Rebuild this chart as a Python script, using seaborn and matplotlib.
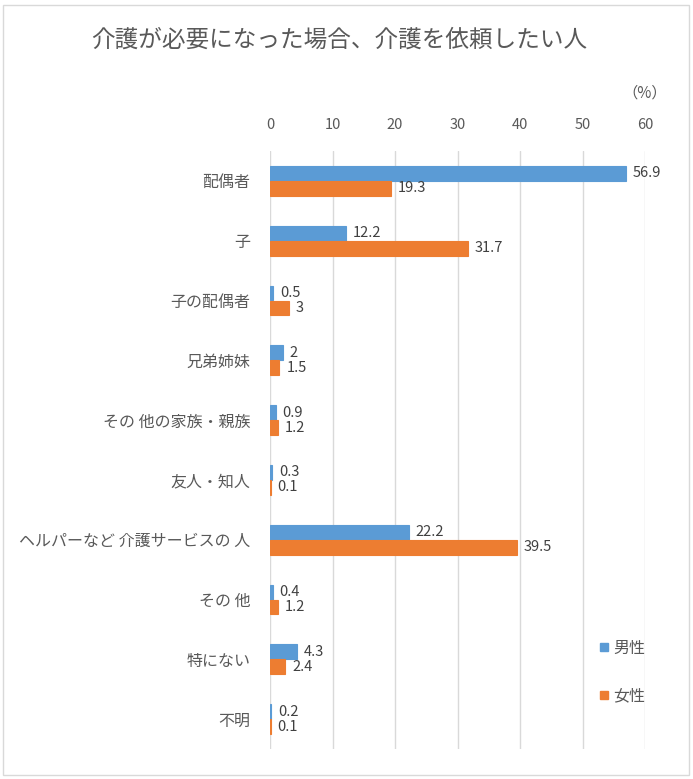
import matplotlib
matplotlib.use("Agg")
import matplotlib.pyplot as plt
import seaborn as sns
import pandas as pd
from matplotlib.lines import Line2D
from matplotlib.patches import Rectangle

categories = ["配偶者", "子", "子の配偶者", "兄弟姉妹", "その 他の家族・親族", "友人・知人",
              "ヘルパーなど 介護サービスの 人", "その 他", "特にない", "不明"]
male = [56.9, 12.2, 0.5, 2, 0.9, 0.3, 22.2, 0.4, 4.3, 0.2]
female = [19.3, 31.7, 3, 1.5, 1.2, 0.1, 39.5, 1.2, 2.4, 0.1]
male_labels = ["56.9", "12.2", "0.5", "2", "0.9", "0.3", "22.2", "0.4", "4.3", "0.2"]
female_labels = ["19.3", "31.7", "3", "1.5", "1.2", "0.1", "39.5", "1.2", "2.4", "0.1"]
series = ["男性", "女性"]
colors = ["#5B9BD5", "#ED7D31"]
ticks = [0, 10, 20, 30, 40, 50, 60]

sns.set_theme(style="white")
plt.rcParams['font.family'] = ['Noto Sans CJK JP', 'DejaVu Sans']
txt = "#595959"

df = pd.DataFrame({
    "cat": categories * 2,
    "val": male + female,
    "sex": [series[0]] * len(categories) + [series[1]] * len(categories),
})

fig = plt.figure(figsize=(6.93, 7.79), dpi=100)
fig.patches.append(Rectangle((3/693, 4/779), 686/693, 770/779, transform=fig.transFigure,
                             fill=False, edgecolor="#D9D9D9", linewidth=1))
ax = fig.add_axes([270/693, 1 - 749/779, 375/693, 598/779])

sns.barplot(data=df, y="cat", x="val", hue="sex", orient="h", palette=colors,
            width=0.5, ax=ax, legend=False, saturation=1)
for cont, c in zip(ax.containers, colors):
    for p in cont:
        p.set_edgecolor(c)
        p.set_linewidth(0.8)

for cont, labs in zip(ax.containers, [male_labels, female_labels]):
    ax.bar_label(cont, labels=labs, padding=5, fontsize=10.5, color="#404040")

ax.set_xlim(0, 60)
ax.set_xticks(ticks)
ax.xaxis.tick_top()
ax.tick_params(axis='x', length=0, labelsize=10.5, colors=txt, pad=14)
ax.tick_params(axis='y', length=0, labelsize=11.5, colors=txt, pad=14)
ax.set_xlabel("")
ax.set_ylabel("")
for s in ax.spines.values():
    s.set_visible(False)
ax.grid(axis='x', color="#D9D9D9", linewidth=1)
ax.set_axisbelow(True)

fig.text(0.49, 1 - 40/779, "介護が必要になった場合、介護を依頼したい人", ha="center", va="center",
         fontsize=17, color=txt)
fig.text(645/693, 1 - 93/779, "（%）", ha="center", va="center", fontsize=11, color=txt)

handles = [Line2D([], [], marker='s', linestyle='', color=c, markersize=6) for c in colors]
leg = fig.legend(handles, series, loc="center left", bbox_to_anchor=(588/693, 1 - 672/779),
                 frameon=False, fontsize=11.5, labelspacing=1.9, handletextpad=0.1,
                 handlelength=1.0, borderpad=0)
for t in leg.get_texts():
    t.set_color(txt)

fig.savefig("out.png", dpi=100)
